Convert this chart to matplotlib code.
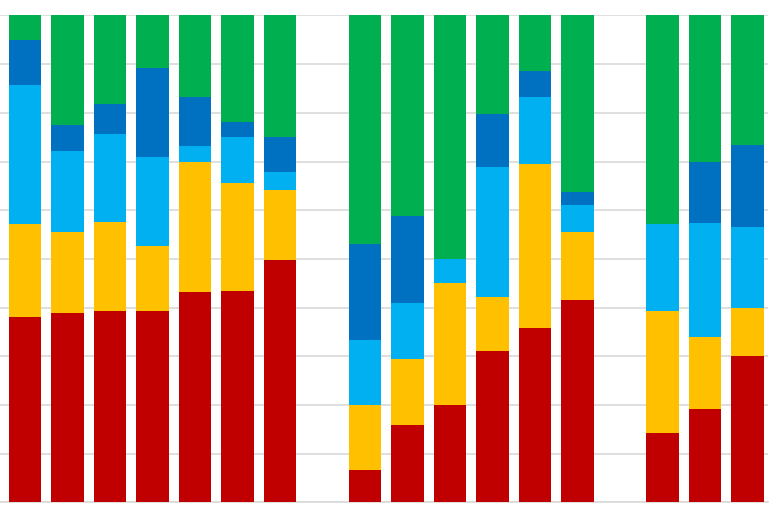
# 100% 堆积柱状图，三组

import matplotlib.pyplot as plt
import numpy as np

# 每组柱子的个数
group_sizes = [7, 6, 3]

# 各系列数值（百分比），从下往上堆叠
red = [38.0, 38.8, 39.2, 39.4, 43.1, 43.5, 49.8,
       6.6, 15.8, 19.9, 31.0, 35.9, 41.5,
       14.2, 19.1, 30.0]
yellow = [19.2, 16.7, 18.4, 13.3, 26.8, 22.1, 14.4,
          13.3, 13.6, 25.1, 11.2, 33.6, 14.0,
          25.1, 14.9, 9.9]
light_blue = [28.5, 16.7, 18.1, 18.2, 3.3, 9.4, 3.7,
              13.4, 11.5, 5.0, 26.7, 13.8, 5.6,
              17.9, 23.4, 16.7]
dark_blue = [9.3, 5.4, 6.1, 18.4, 10.0, 3.1, 7.1,
             19.8, 18.0, 0.0, 10.9, 5.4, 2.7,
             0.0, 12.6, 16.7]
green = [5.0, 22.4, 18.2, 10.7, 16.8, 21.9, 25.0,
         46.9, 41.1, 50.0, 20.2, 11.3, 36.2,
         42.8, 30.0, 26.7]

series = [red, yellow, light_blue, dark_blue, green]
colors = ['#C00000', '#FFC000', '#00B0F0', '#0070C0', '#00B050']

# 组与组之间空一格
x = []
start = 0
for n in group_sizes:
    x.extend(range(start, start + n))
    start += n + 1
x = np.array(x)

fig = plt.figure(figsize=(7.8, 5.18), dpi=100)
ax = fig.add_axes([0, 15.7 / 518, 768 / 780, 486.8 / 518])

bottom = np.zeros(len(x))
for vals, c in zip(series, colors):
    vals = np.array(vals)
    ax.bar(x, vals, width=0.76, bottom=bottom, color=c, zorder=3)
    bottom += vals

ax.set_ylim(0, 100)
ax.set_xlim(-0.586, 17.48)
ax.set_yticks(np.arange(0, 101, 10))
ax.yaxis.grid(True, color='#D9D9D9', linewidth=1.2, zorder=0)
ax.tick_params(left=False, bottom=False, labelleft=False, labelbottom=False)
for s in ['top', 'right', 'left']:
    ax.spines[s].set_visible(False)
ax.spines['bottom'].set_color('#D9D9D9')
ax.spines['bottom'].set_linewidth(1.2)

fig.savefig('out.png', dpi=100)
